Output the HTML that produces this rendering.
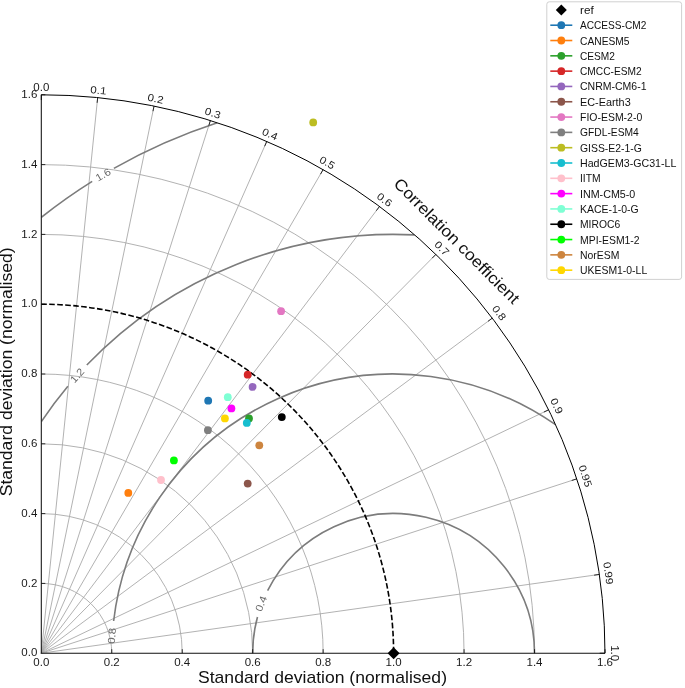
<!DOCTYPE html>
<html><head><meta charset="utf-8"><title>Taylor diagram</title>
<style>html,body{margin:0;padding:0;background:#fff;}body{width:685px;height:688px;overflow:hidden;font-family:"Liberation Sans",sans-serif;}svg{display:block;will-change:transform}</style>
</head><body>
<svg width="685" height="688" viewBox="0 0 685 688">
<rect width="685" height="688" fill="#fff"/>
<defs><clipPath id="q"><path d="M41.3 653.2 L604.98 653.2 A563.68 558.4 0 0 0 41.3 94.8 Z"/></clipPath></defs>
<g stroke="#a9a9a9" stroke-width="0.9" fill="none">
<line x1="41.3" y1="653.2" x2="97.67" y2="97.6"/>
<line x1="41.3" y1="653.2" x2="154.04" y2="106.08"/>
<line x1="41.3" y1="653.2" x2="210.4" y2="120.52"/>
<line x1="41.3" y1="653.2" x2="266.77" y2="141.42"/>
<line x1="41.3" y1="653.2" x2="323.14" y2="169.61"/>
<line x1="41.3" y1="653.2" x2="379.51" y2="206.48"/>
<line x1="41.3" y1="653.2" x2="435.88" y2="254.42"/>
<line x1="41.3" y1="653.2" x2="492.24" y2="318.16"/>
<line x1="41.3" y1="653.2" x2="548.61" y2="409.8"/>
<line x1="41.3" y1="653.2" x2="576.8" y2="478.84"/>
<line x1="41.3" y1="653.2" x2="599.34" y2="574.43"/>
<path d="M111.76 653.2 A70.46 69.8 0 0 0 41.3 583.4"/>
<path d="M182.22 653.2 A140.92 139.6 0 0 0 41.3 513.6"/>
<path d="M252.68 653.2 A211.38 209.4 0 0 0 41.3 443.8"/>
<path d="M323.14 653.2 A281.84 279.2 0 0 0 41.3 374"/>
<path d="M464.06 653.2 A422.76 418.8 0 0 0 41.3 234.4"/>
<path d="M534.52 653.2 A493.22 488.6 0 0 0 41.3 164.6"/>
</g>
<g clip-path="url(#q)">
<path d="M534.52 653.2 A140.92 139.6 0 0 0 267.62 590.64" fill="none" stroke="#7c7c7c" stroke-width="1.6"/>
<path d="M257.48 617.07 A140.92 139.6 0 0 0 252.68 653.2" fill="none" stroke="#7c7c7c" stroke-width="1.6"/>
<text font-family="Liberation Sans, sans-serif" font-size="10.2" fill="#6a6a6a" text-anchor="middle" y="3.6" transform="translate(261.06 603.63) rotate(-69) scale(1.12 1)">0.4</text>
<path d="M555.56 424.7 A281.84 279.2 0 0 0 113.64 620.99" fill="none" stroke="#7c7c7c" stroke-width="1.6"/>
<text font-family="Liberation Sans, sans-serif" font-size="10.2" fill="#6a6a6a" text-anchor="middle" y="3.6" transform="translate(111.83 635.93) rotate(-86) scale(1.12 1)">0.8</text>
<path d="M414.62 234.92 A422.76 418.8 0 0 0 86.81 365.05" fill="none" stroke="#7c7c7c" stroke-width="1.6"/>
<path d="M67.86 386.25 A422.76 418.8 0 0 0 41.37 421.59" fill="none" stroke="#7c7c7c" stroke-width="1.6"/>
<text font-family="Liberation Sans, sans-serif" font-size="10.2" fill="#6a6a6a" text-anchor="middle" y="3.6" transform="translate(77.12 375.53) rotate(-48.5) scale(1.12 1)">1.2</text>
<path d="M217.31 122.81 A563.68 558.4 0 0 0 113.89 168.4" fill="none" stroke="#7c7c7c" stroke-width="1.6"/>
<path d="M92.19 181.34 A563.68 558.4 0 0 0 41.36 217.26" fill="none" stroke="#7c7c7c" stroke-width="1.6"/>
<text font-family="Liberation Sans, sans-serif" font-size="10.2" fill="#6a6a6a" text-anchor="middle" y="3.6" transform="translate(103.03 174.71) rotate(-30) scale(1.12 1)">1.6</text>
</g>
<path d="M41.3 304.2 A352.3 349 0 0 1 393.6 653.2" fill="none" stroke="#000" stroke-width="1.6" stroke-dasharray="5.6 2.4"/>
<path d="M41.3 94.8 L41.3 653.2 L604.98 653.2" fill="none" stroke="#111" stroke-width="1.05"/>
<path d="M604.98 653.2 A563.68 558.4 0 0 0 41.3 94.8" fill="none" stroke="#000" stroke-width="1"/>
<g font-family="Liberation Sans, sans-serif" font-size="10.3" fill="#1a1a1a">
<line x1="41.3" y1="94.8" x2="41.3" y2="100.04" stroke="#000" stroke-width="0.8"/>
<text text-anchor="middle" transform="translate(41.3 87.6) rotate(0) scale(1.12 1)" y="3.6">0.0</text>
<line x1="97.67" y1="97.6" x2="97.14" y2="102.81" stroke="#000" stroke-width="0.8"/>
<text text-anchor="middle" transform="translate(98.41 90.24) rotate(5.74) scale(1.12 1)" y="3.6">0.1</text>
<line x1="154.04" y1="106.08" x2="152.98" y2="111.21" stroke="#000" stroke-width="0.8"/>
<text text-anchor="middle" transform="translate(155.56 98.64) rotate(11.54) scale(1.12 1)" y="3.6">0.2</text>
<line x1="210.4" y1="120.52" x2="208.82" y2="125.51" stroke="#000" stroke-width="0.8"/>
<text text-anchor="middle" transform="translate(212.74 113.08) rotate(17.46) scale(1.12 1)" y="3.6">0.3</text>
<line x1="266.77" y1="141.42" x2="264.66" y2="146.22" stroke="#000" stroke-width="0.8"/>
<text text-anchor="middle" transform="translate(269.97 134.09) rotate(23.58) scale(1.12 1)" y="3.6">0.4</text>
<line x1="323.14" y1="169.61" x2="320.5" y2="174.15" stroke="#000" stroke-width="0.8"/>
<text text-anchor="middle" transform="translate(327.24 162.51) rotate(30) scale(1.12 1)" y="3.6">0.5</text>
<line x1="379.51" y1="206.48" x2="376.34" y2="210.67" stroke="#000" stroke-width="0.8"/>
<text text-anchor="middle" transform="translate(384.55 199.76) rotate(36.87) scale(1.12 1)" y="3.6">0.6</text>
<line x1="435.88" y1="254.42" x2="432.18" y2="258.16" stroke="#000" stroke-width="0.8"/>
<text text-anchor="middle" transform="translate(441.9 248.28) rotate(44.43) scale(1.12 1)" y="3.6">0.7</text>
<line x1="492.24" y1="318.16" x2="488.02" y2="321.3" stroke="#000" stroke-width="0.8"/>
<text text-anchor="middle" transform="translate(499.28 312.88) rotate(53.13) scale(1.12 1)" y="3.6">0.8</text>
<line x1="548.61" y1="409.8" x2="543.86" y2="412.08" stroke="#000" stroke-width="0.8"/>
<text text-anchor="middle" transform="translate(556.71 405.88) rotate(64.16) scale(1.12 1)" y="3.6">0.9</text>
<line x1="576.8" y1="478.84" x2="571.78" y2="480.47" stroke="#000" stroke-width="0.8"/>
<text text-anchor="middle" transform="translate(585.44 476) rotate(71.81) scale(1.12 1)" y="3.6">0.95</text>
<line x1="599.34" y1="574.43" x2="594.11" y2="575.17" stroke="#000" stroke-width="0.8"/>
<text text-anchor="middle" transform="translate(608.43 573.13) rotate(81.89) scale(1.12 1)" y="3.6">0.99</text>
<line x1="604.98" y1="653.2" x2="599.7" y2="653.2" stroke="#000" stroke-width="0.8"/>
<text text-anchor="middle" transform="translate(614.18 653.2) rotate(90) scale(1.12 1)" y="3.6">1.0</text>
<text text-anchor="middle" transform="translate(41.3 666) scale(1.12 1)">0.0</text>
<text text-anchor="end" transform="translate(37.3 656.3) scale(1.12 1)">0.0</text>
<line x1="111.76" y1="653.2" x2="111.76" y2="649.2" stroke="#000" stroke-width="0.8"/>
<line x1="41.3" y1="583.4" x2="45.3" y2="583.4" stroke="#000" stroke-width="0.8"/>
<text text-anchor="middle" transform="translate(111.76 666) scale(1.12 1)">0.2</text>
<text text-anchor="end" transform="translate(37.3 586.5) scale(1.12 1)">0.2</text>
<line x1="182.22" y1="653.2" x2="182.22" y2="649.2" stroke="#000" stroke-width="0.8"/>
<line x1="41.3" y1="513.6" x2="45.3" y2="513.6" stroke="#000" stroke-width="0.8"/>
<text text-anchor="middle" transform="translate(182.22 666) scale(1.12 1)">0.4</text>
<text text-anchor="end" transform="translate(37.3 516.7) scale(1.12 1)">0.4</text>
<line x1="252.68" y1="653.2" x2="252.68" y2="649.2" stroke="#000" stroke-width="0.8"/>
<line x1="41.3" y1="443.8" x2="45.3" y2="443.8" stroke="#000" stroke-width="0.8"/>
<text text-anchor="middle" transform="translate(252.68 666) scale(1.12 1)">0.6</text>
<text text-anchor="end" transform="translate(37.3 446.9) scale(1.12 1)">0.6</text>
<line x1="323.14" y1="653.2" x2="323.14" y2="649.2" stroke="#000" stroke-width="0.8"/>
<line x1="41.3" y1="374" x2="45.3" y2="374" stroke="#000" stroke-width="0.8"/>
<text text-anchor="middle" transform="translate(323.14 666) scale(1.12 1)">0.8</text>
<text text-anchor="end" transform="translate(37.3 377.1) scale(1.12 1)">0.8</text>
<line x1="393.6" y1="653.2" x2="393.6" y2="649.2" stroke="#000" stroke-width="0.8"/>
<line x1="41.3" y1="304.2" x2="45.3" y2="304.2" stroke="#000" stroke-width="0.8"/>
<text text-anchor="middle" transform="translate(393.6 666) scale(1.12 1)">1.0</text>
<text text-anchor="end" transform="translate(37.3 307.3) scale(1.12 1)">1.0</text>
<line x1="464.06" y1="653.2" x2="464.06" y2="649.2" stroke="#000" stroke-width="0.8"/>
<line x1="41.3" y1="234.4" x2="45.3" y2="234.4" stroke="#000" stroke-width="0.8"/>
<text text-anchor="middle" transform="translate(464.06 666) scale(1.12 1)">1.2</text>
<text text-anchor="end" transform="translate(37.3 237.5) scale(1.12 1)">1.2</text>
<line x1="534.52" y1="653.2" x2="534.52" y2="649.2" stroke="#000" stroke-width="0.8"/>
<line x1="41.3" y1="164.6" x2="45.3" y2="164.6" stroke="#000" stroke-width="0.8"/>
<text text-anchor="middle" transform="translate(534.52 666) scale(1.12 1)">1.4</text>
<text text-anchor="end" transform="translate(37.3 167.7) scale(1.12 1)">1.4</text>
<line x1="604.98" y1="653.2" x2="604.98" y2="649.2" stroke="#000" stroke-width="0.8"/>
<line x1="41.3" y1="94.8" x2="45.3" y2="94.8" stroke="#000" stroke-width="0.8"/>
<text text-anchor="middle" transform="translate(604.98 666) scale(1.12 1)">1.6</text>
<text text-anchor="end" transform="translate(37.3 97.9) scale(1.12 1)">1.6</text>
</g>
<text x="322.5" y="683.4" font-family="Liberation Sans, sans-serif" font-size="16.2" fill="#111" text-anchor="middle" textLength="249" lengthAdjust="spacingAndGlyphs">Standard deviation (normalised)</text>
<text x="0" y="0" font-family="Liberation Sans, sans-serif" font-size="16.2" fill="#111" text-anchor="middle" textLength="249" lengthAdjust="spacingAndGlyphs" transform="translate(12.4 371.8) rotate(-90)">Standard deviation (normalised)</text>
<text x="457" y="240.6" font-family="Liberation Sans, sans-serif" font-size="16.2" fill="#111" text-anchor="middle" dominant-baseline="central" textLength="170" lengthAdjust="spacingAndGlyphs" transform="rotate(45 457 240.6)">Correlation coefficient</text>
<circle cx="208.2" cy="400.7" r="3.9" fill="#1f77b4"/>
<circle cx="128.3" cy="492.9" r="3.9" fill="#ff7f0e"/>
<circle cx="249" cy="418.4" r="3.9" fill="#2ca02c"/>
<circle cx="247.7" cy="374.7" r="3.9" fill="#d62728"/>
<circle cx="252.6" cy="386.9" r="3.9" fill="#9467bd"/>
<circle cx="247.7" cy="483.6" r="3.9" fill="#8c564b"/>
<circle cx="281.1" cy="311.2" r="3.9" fill="#e377c2"/>
<circle cx="207.9" cy="430.2" r="3.9" fill="#7f7f7f"/>
<circle cx="313.2" cy="122.4" r="3.9" fill="#bcbd22"/>
<circle cx="246.8" cy="422.9" r="3.9" fill="#17becf"/>
<circle cx="161" cy="480" r="3.9" fill="#ffc0cb"/>
<circle cx="231.4" cy="408.4" r="3.9" fill="#ff00ff"/>
<circle cx="227.8" cy="397.2" r="3.9" fill="#7fffd4"/>
<circle cx="281.8" cy="417.1" r="3.9" fill="#000000"/>
<circle cx="173.9" cy="460.4" r="3.9" fill="#00ff00"/>
<circle cx="259.3" cy="445.3" r="3.9" fill="#cd853f"/>
<circle cx="224.9" cy="418.4" r="3.9" fill="#ffd700"/>
<path d="M393.6 647.2 L399.6 653.2 L393.6 659.2 L387.6 653.2 Z" fill="#000"/>
<rect x="546.8" y="1.8" width="134.80000000000007" height="277.59999999999997" rx="2.5" fill="#fff" stroke="#d0d0d0" stroke-width="1"/>
<path d="M561.3 4.4 L566.8 9.9 L561.3 15.4 L555.8 9.9 Z" fill="#000"/>
<g font-family="Liberation Sans, sans-serif" font-size="10.2" fill="#111">
<text x="580" y="13.9" textLength="13.66" lengthAdjust="spacingAndGlyphs">ref</text>
<line x1="550.3" y1="25.21" x2="572.3" y2="25.21" stroke="#1f77b4" stroke-width="1.6"/>
<circle cx="561.3" cy="25.21" r="3.9" fill="#1f77b4"/>
<text x="580" y="29.21" textLength="66.31" lengthAdjust="spacingAndGlyphs">ACCESS-CM2</text>
<line x1="550.3" y1="40.52" x2="572.3" y2="40.52" stroke="#ff7f0e" stroke-width="1.6"/>
<circle cx="561.3" cy="40.52" r="3.9" fill="#ff7f0e"/>
<text x="580" y="44.52" textLength="49.54" lengthAdjust="spacingAndGlyphs">CANESM5</text>
<line x1="550.3" y1="55.83" x2="572.3" y2="55.83" stroke="#2ca02c" stroke-width="1.6"/>
<circle cx="561.3" cy="55.83" r="3.9" fill="#2ca02c"/>
<text x="580" y="59.83" textLength="34.93" lengthAdjust="spacingAndGlyphs">CESM2</text>
<line x1="550.3" y1="71.14" x2="572.3" y2="71.14" stroke="#d62728" stroke-width="1.6"/>
<circle cx="561.3" cy="71.14" r="3.9" fill="#d62728"/>
<text x="580" y="75.14" textLength="61.66" lengthAdjust="spacingAndGlyphs">CMCC-ESM2</text>
<line x1="550.3" y1="86.45" x2="572.3" y2="86.45" stroke="#9467bd" stroke-width="1.6"/>
<circle cx="561.3" cy="86.45" r="3.9" fill="#9467bd"/>
<text x="580" y="90.45" textLength="66.5" lengthAdjust="spacingAndGlyphs">CNRM-CM6-1</text>
<line x1="550.3" y1="101.76" x2="572.3" y2="101.76" stroke="#8c564b" stroke-width="1.6"/>
<circle cx="561.3" cy="101.76" r="3.9" fill="#8c564b"/>
<text x="580" y="105.76" textLength="50.69" lengthAdjust="spacingAndGlyphs">EC-Earth3</text>
<line x1="550.3" y1="117.07" x2="572.3" y2="117.07" stroke="#e377c2" stroke-width="1.6"/>
<circle cx="561.3" cy="117.07" r="3.9" fill="#e377c2"/>
<text x="580" y="121.07" textLength="62.25" lengthAdjust="spacingAndGlyphs">FIO-ESM-2-0</text>
<line x1="550.3" y1="132.38" x2="572.3" y2="132.38" stroke="#7f7f7f" stroke-width="1.6"/>
<circle cx="561.3" cy="132.38" r="3.9" fill="#7f7f7f"/>
<text x="580" y="136.38" textLength="58.8" lengthAdjust="spacingAndGlyphs">GFDL-ESM4</text>
<line x1="550.3" y1="147.69" x2="572.3" y2="147.69" stroke="#bcbd22" stroke-width="1.6"/>
<circle cx="561.3" cy="147.69" r="3.9" fill="#bcbd22"/>
<text x="580" y="151.69" textLength="61.84" lengthAdjust="spacingAndGlyphs">GISS-E2-1-G</text>
<line x1="550.3" y1="163" x2="572.3" y2="163" stroke="#17becf" stroke-width="1.6"/>
<circle cx="561.3" cy="163" r="3.9" fill="#17becf"/>
<text x="580" y="167" textLength="96.37" lengthAdjust="spacingAndGlyphs">HadGEM3-GC31-LL</text>
<line x1="550.3" y1="178.31" x2="572.3" y2="178.31" stroke="#ffc0cb" stroke-width="1.6"/>
<circle cx="561.3" cy="178.31" r="3.9" fill="#ffc0cb"/>
<text x="580" y="182.31" textLength="20.65" lengthAdjust="spacingAndGlyphs">IITM</text>
<line x1="550.3" y1="193.62" x2="572.3" y2="193.62" stroke="#ff00ff" stroke-width="1.6"/>
<circle cx="561.3" cy="193.62" r="3.9" fill="#ff00ff"/>
<text x="580" y="197.62" textLength="55.3" lengthAdjust="spacingAndGlyphs">INM-CM5-0</text>
<line x1="550.3" y1="208.93" x2="572.3" y2="208.93" stroke="#7fffd4" stroke-width="1.6"/>
<circle cx="561.3" cy="208.93" r="3.9" fill="#7fffd4"/>
<text x="580" y="212.93" textLength="58.76" lengthAdjust="spacingAndGlyphs">KACE-1-0-G</text>
<line x1="550.3" y1="224.24" x2="572.3" y2="224.24" stroke="#000000" stroke-width="1.6"/>
<circle cx="561.3" cy="224.24" r="3.9" fill="#000000"/>
<text x="580" y="228.24" textLength="40.13" lengthAdjust="spacingAndGlyphs">MIROC6</text>
<line x1="550.3" y1="239.55" x2="572.3" y2="239.55" stroke="#00ff00" stroke-width="1.6"/>
<circle cx="561.3" cy="239.55" r="3.9" fill="#00ff00"/>
<text x="580" y="243.55" textLength="59.63" lengthAdjust="spacingAndGlyphs">MPI-ESM1-2</text>
<line x1="550.3" y1="254.86" x2="572.3" y2="254.86" stroke="#cd853f" stroke-width="1.6"/>
<circle cx="561.3" cy="254.86" r="3.9" fill="#cd853f"/>
<text x="580" y="258.86" textLength="39.39" lengthAdjust="spacingAndGlyphs">NorESM</text>
<line x1="550.3" y1="270.17" x2="572.3" y2="270.17" stroke="#ffd700" stroke-width="1.6"/>
<circle cx="561.3" cy="270.17" r="3.9" fill="#ffd700"/>
<text x="580" y="274.17" textLength="67.19" lengthAdjust="spacingAndGlyphs">UKESM1-0-LL</text>
</g>
</svg>
</body></html>
